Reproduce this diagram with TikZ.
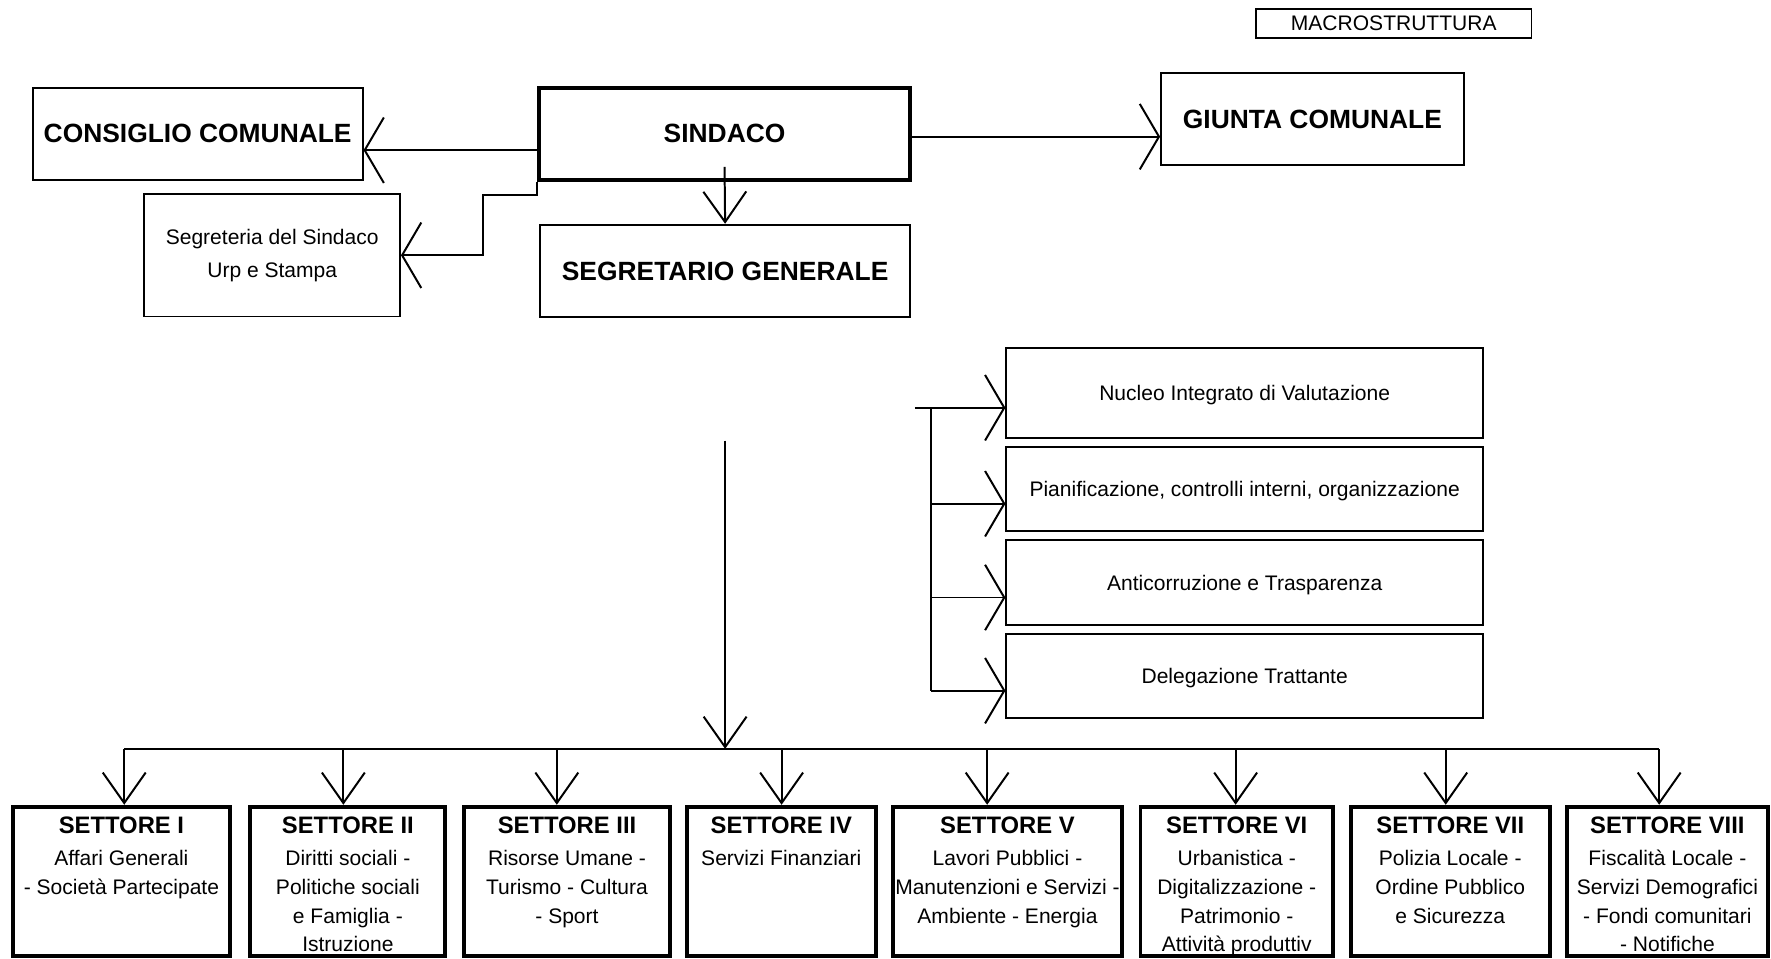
\documentclass[tikz,border=0pt]{standalone}
\usepackage{fontspec}
\setmainfont{Liberation Sans}
\usetikzlibrary{positioning,arrows.meta,calc}
\newcommand{\titlefont}{\fontsize{13.3}{16}\selectfont\bfseries}
\newcommand{\headfont}{\fontsize{12}{14}\selectfont\bfseries}
\newcommand{\bodyfont}{\fontsize{10.6}{14.5}\selectfont}
\tikzset{
  line/.style={line width=1pt,draw=black},
  hflow/.style={line,-{Straight Barb[length=3.4mm,width=11.6mm]}},
  vflow/.style={line,-{Straight Barb[length=5.4mm,width=7.6mm]}},
  thinbox/.style={draw,line width=0.85pt,align=center,font=\bodyfont,inner sep=0pt},
  box/.style={draw,line width=1pt,align=center,font=\titlefont,inner sep=0pt},
  strongbox/.style={draw,line width=2pt,align=center,font=\titlefont,inner sep=0pt},
  staffbox/.style={box,font=\bodyfont,text depth=0pt,minimum width=8.44cm,minimum height=1.5cm},
  settore/.style={draw,line width=2pt,minimum height=2.65cm,inner sep=0pt},
  settoretxt/.style={anchor=north,align=center,font=\bodyfont,inner sep=6.1pt}
}
\begin{document}
\begin{tikzpicture}[x=0.02cm,y=-0.02cm]
  \useasboundingbox (0,0) rectangle (1568,849);
  % vertice
  \node[thinbox,minimum width=4.88cm,minimum height=0.51cm] (macro) at (1234,21) {MACROSTRUTTURA};
  \node[box,minimum width=5.84cm,minimum height=1.62cm] (cons) at (175,118.5) {CONSIGLIO COMUNALE};
  \node[strongbox,minimum width=6.58cm,minimum height=1.62cm] (sind) at (641.5,118.5) {SINDACO};
  \node[box,minimum width=5.36cm,minimum height=1.62cm] (giun) at (1162,105.5) {GIUNTA COMUNALE};
  \node[thinbox,minimum width=4.53cm,minimum height=2.17cm,font=\fontsize{10.6}{16.5}\selectfont] (segr) at (241,226) {Segreteria del Sindaco\\Urp e Stampa};
  \node[box,minimum width=6.56cm,minimum height=1.64cm] (segg) at (642,240) {SEGRETARIO GENERALE};
  \coordinate (ca) at ($(cons.east)+(0,14.5)$);
  \coordinate (ga) at ($(giun.west)+(0,15.5)$);
  \coordinate (sk) at (428,173);
  \draw[hflow] (ca -| sind.west) -- (ca);
  \draw[hflow] (ga -| sind.east) -- (ga);
  \draw[hflow] (sind.south west) |- (sk) |- (segr.east);
  \draw[vflow] ($(sind.south)+(0,-13)$) -- (segg.north);
  % staff
  \node[staffbox,minimum height=1.6cm] (r1) at (1102,348) {Nucleo Integrato di Valutazione};
  \node[staffbox] (r2) at (1102,433) {Pianificazione, controlli interni, organizzazione};
  \node[staffbox] (r3) at (1102,516) {Anticorruzione e Trasparenza};
  \node[staffbox] (r4) at (1102,598.5) {Delegazione Trattante};
  \coordinate (rs) at (810,0);
  \coordinate (rv) at (824,0);
  \foreach \i in {1,...,4}{
    \coordinate (a\i) at ($(r\i.west)+(0,13)$);
    \draw[hflow] (a\i -| rv) -- (a\i);
  }
  \draw[line] (a1 -| rs) -- (a1 -| rv) -- (a4 -| rv);
  % settori
  \foreach \i/\x/\w in {1/107.5/3.85,2/308/3.45,3/502/3.65,4/691.75/3.34,
                        5/892/4.05,6/1095/3.41,7/1284/3.53,8/1476.25/3.56}
    \node[settore,minimum width=\w cm] (s\i) at (\x,780.5) {};
  \node[settoretxt] at (s1.north) {{\headfont SETTORE I}\\[1.5pt]Affari Generali\\- Società Partecipate};
  \node[settoretxt] at (s2.north) {{\headfont SETTORE II}\\[1.5pt]Diritti sociali -\\Politiche sociali\\e Famiglia -\\Istruzione};
  \node[settoretxt] at (s3.north) {{\headfont SETTORE III}\\[1.5pt]Risorse Umane -\\Turismo - Cultura\\- Sport};
  \node[settoretxt] at (s4.north) {{\headfont SETTORE IV}\\[1.5pt]Servizi Finanziari};
  \node[settoretxt] at (s5.north) {{\headfont SETTORE V}\\[1.5pt]Lavori Pubblici -\\Manutenzioni e Servizi -\\Ambiente - Energia};
  \node[settoretxt] at (s6.north) {{\headfont SETTORE VI}\\[1.5pt]Urbanistica -\\Digitalizzazione -\\Patrimonio -\\Attività produttiv};
  \node[settoretxt] at (s7.north) {{\headfont SETTORE VII}\\[1.5pt]Polizia Locale -\\Ordine Pubblico\\e Sicurezza};
  \node[settoretxt] at (s8.north) {{\headfont SETTORE VIII}\\[1.5pt]Fiscalità Locale -\\Servizi Demografici\\- Fondi comunitari\\- Notifiche};
  \coordinate (mtop) at (642,390);
  \coordinate (bm) at (642,663);
  \draw[vflow] (mtop) -- (bm);
  \foreach \i/\x in {1/110,2/304,3/493,4/692,5/874,6/1094,7/1280,8/1469}{
    \coordinate (b\i) at (\x,663);
    \draw[vflow] (b\i) -- (b\i |- s\i.north);
  }
  \draw[line] (b1) -- (b8);
\end{tikzpicture}
\end{document}
